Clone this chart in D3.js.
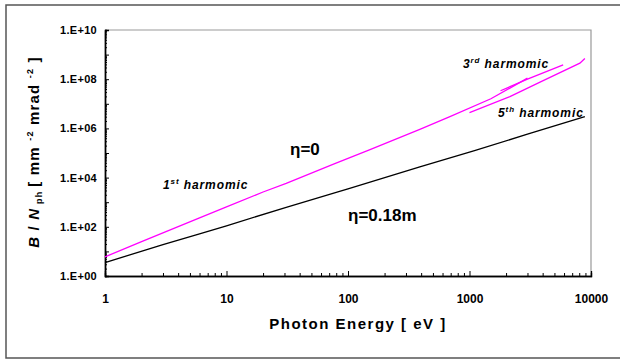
<!DOCTYPE html>
<html>
<head>
<script src="https://d3js.org/d3.v7.min.js"></script>
<style>
    body { margin: 0; background: #fff; overflow: hidden; }
    svg { display: block; }
    text { font-family: "Liberation Sans", Arial, sans-serif; font-weight: bold; }
</style>
</head>
<body>
<div id="my_dataviz"></div>
<script>
    // data: photon energy [eV] and B/N_ph
    var firstE = [1, 2, 6, 10, 20, 31, 76, 150, 390, 690, 1500, 3000];
    var firstB = [6.0, 25, 230, 640, 2600, 5800, 35000, 1.35e5, 9.1e5, 3.0e6, 1.6e7, 1.1e8];
    var thirdE = [1000, 2150, 4000, 8100, 8900];
    var thirdB = [4.4e6, 1.95e7, 8.5e7, 4.5e8, 7.0e8];
    var fifthE = [1800, 3000, 5900];
    var fifthB = [3.4e7, 1.0e8, 3.8e8];
    var etaE = [1, 3, 6, 10, 31, 80, 100, 390, 1100, 3000, 8900];
    var etaB = [3.5, 19, 51, 110, 620, 2500, 3500, 27500, 1.25e5, 5.8e5, 3.0e6];

    var xTickLabels = [1, 10, 100, 1000, 10000];
    var yTickLabels = ["1.E+00", "1.E+02", "1.E+04", "1.E+06", "1.E+08", "1.E+10"];
    var yTickValues = [1, 1e2, 1e4, 1e6, 1e8, 1e10];

    var W = 620, H = 360;
    var margin = { top: 30, right: 29, bottom: 84, left: 105 },
        width = W - margin.left - margin.right,
        height = H - margin.top - margin.bottom;

    var svg = d3.select("#my_dataviz")
        .append("svg")
        .attr("width", W)
        .attr("height", H);

    // outer frame
    svg.append("rect")
        .attr("x", 6).attr("y", 5)
        .attr("width", 620).attr("height", 353)
        .attr("fill", "none")
        .attr("stroke", "#555")
        .attr("stroke-width", 1.5);

    var g = svg.append("g")
        .attr("transform", "translate(" + margin.left + "," + margin.top + ")");

    var x = d3.scaleLog().domain([1, 10000]).range([0, width]);
    var y = d3.scaleLog().domain([1, 1e10]).range([height, 0]);

    // gray frame top / right
    g.append("path")
        .attr("d", "M0,0H" + width + "V" + height)
        .attr("fill", "none")
        .attr("stroke", "#999")
        .attr("stroke-width", 1.2);

    // minor ticks
    var xMinor = [], yMinor = [], yMajor = [];
    for (var d = 0; d < 4; d++) {
        for (var k = 2; k < 10; k++) xMinor.push(k * Math.pow(10, d));
    }
    for (var d = 0; d < 10; d++) {
        for (var k = 2; k < 10; k++) yMinor.push(k * Math.pow(10, d));
    }
    for (var d = 0; d <= 10; d++) yMajor.push(Math.pow(10, d));

    function axisStyle(sel) {
        sel.select(".domain").attr("stroke", "#000").attr("stroke-width", 1.3);
        sel.selectAll(".tick line").attr("stroke", "#000");
    }

    g.append("g")
        .attr("transform", "translate(0," + height + ")")
        .call(d3.axisBottom(x).tickValues(xMinor).tickSize(-3).tickFormat(""))
        .call(axisStyle);
    g.append("g")
        .attr("transform", "translate(0," + height + ")")
        .call(d3.axisBottom(x).tickValues(xTickLabels).tickSize(-5).tickPadding(18)
            .tickFormat(function (v) { return String(v); }))
        .call(axisStyle)
        .selectAll("text")
        .style("font-size", "12px")
        .attr("fill", "#000");

    g.append("g")
        .call(d3.axisLeft(y).tickValues(yMinor).tickSize(-2).tickFormat(""))
        .call(axisStyle);
    g.append("g")
        .call(d3.axisLeft(y).tickValues(yMajor).tickSize(-4).tickFormat(""))
        .call(axisStyle);
    g.append("g")
        .call(d3.axisLeft(y).tickValues(yTickValues).tickSize(0).tickPadding(8)
            .tickFormat(function (v, i) { return yTickLabels[i]; }))
        .call(axisStyle)
        .selectAll("text")
        .style("font-size", "11px")
        .style("letter-spacing", "0.3px")
        .attr("fill", "#000");

    // curves
    var line = d3.line()
        .x(function (d) { return x(d[0]); })
        .y(function (d) { return y(d[1]); });

    function draw(es, bs, color) {
        g.append("path")
            .datum(es.map(function (e, i) { return [e, bs[i]]; }))
            .attr("d", line)
            .attr("fill", "none")
            .attr("stroke", color)
            .attr("stroke-width", 1.3);
    }
    draw(etaE, etaB, "#000");
    draw(firstE, firstB, "#ff00ff");
    draw(thirdE, thirdB, "#ff00ff");
    draw(fifthE, fifthB, "#ff00ff");

    // annotations
    function harm(xp, yp, num, sup, gap) {
        var t = svg.append("text")
            .attr("x", xp).attr("y", yp)
            .style("font-size", "12px")
            .style("font-style", "italic")
            .style("letter-spacing", "0.9px");
        t.append("tspan").text(num);
        t.append("tspan").attr("dy", -5).style("font-size", "8px").text(sup);
        t.append("tspan").attr("dy", 5).text(gap + "harmomic");
    }
    harm(163, 189, "1", "st", "  ");
    harm(463, 68, "3", "rd", " ");
    harm(498, 117, "5", "th", "  ");

    svg.append("text").attr("x", 290).attr("y", 155)
        .style("font-size", "17px").text("\u03b7=0");
    svg.append("text").attr("x", 348).attr("y", 221)
        .style("font-size", "17px").text("\u03b7=0.18m");

    svg.append("text")
        .attr("x", 358).attr("y", 329)
        .attr("text-anchor", "middle")
        .style("font-size", "15px")
        .style("letter-spacing", "1.5px")
        .text("Photon Energy [ eV ]");

    // y axis title
    var yt = svg.append("text")
        .attr("transform", "translate(39,152) rotate(-90)")
        .attr("text-anchor", "middle")
        .style("font-size", "15px")
        .style("letter-spacing", "1.2px");
    yt.append("tspan").style("font-style", "italic").text("B");
    yt.append("tspan").text(" / ");
    yt.append("tspan").style("font-style", "italic").text("N");
    yt.append("tspan").attr("dy", 3).style("font-size", "9px").text(" ph ");
    yt.append("tspan").attr("dy", -3).text("[ mm ");
    yt.append("tspan").attr("dy", -6).style("font-size", "9px").text("-2");
    yt.append("tspan").attr("dy", 6).text(" mrad ");
    yt.append("tspan").attr("dy", -6).style("font-size", "9px").text("-2");
    yt.append("tspan").attr("dy", 6).text(" ]");
</script>
</body>
</html>
